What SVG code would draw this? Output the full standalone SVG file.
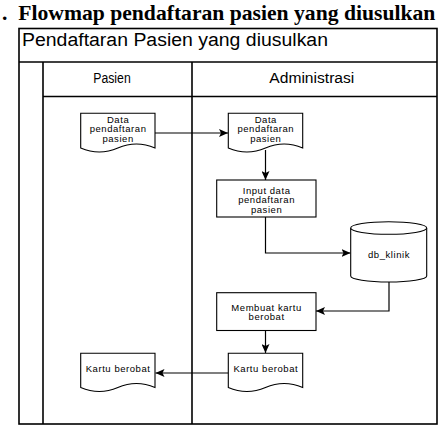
<svg xmlns="http://www.w3.org/2000/svg" width="444" height="428" viewBox="0 0 444 428">
<defs>
<marker id="arr" markerWidth="10" markerHeight="8" refX="9" refY="4" orient="auto" markerUnits="userSpaceOnUse">
<path d="M0,0 L9,4 L0,8 L2,4 Z" fill="#000"/>
</marker>
</defs>
<style>
.frame{fill:none;stroke:#000;stroke-width:1.6}
.shape{fill:#fff;stroke:#000;stroke-width:1.1}
.con{fill:none;stroke:#000;stroke-width:1.2;marker-end:url(#arr)}
.t{font-family:"Liberation Sans",Arial,sans-serif;font-size:9.5px;letter-spacing:0.55px;fill:#000;text-anchor:middle}
.hd{font-family:"Liberation Sans",Arial,sans-serif;fill:#000}
.title{font-family:"Liberation Serif","Times New Roman",serif;font-weight:bold;font-size:21.5px;fill:#000}
</style>
<rect width="444" height="428" fill="#fff"/>
<text class="title" x="2" y="20">.</text>
<text class="title" x="18.3" y="20" textLength="417" lengthAdjust="spacingAndGlyphs">Flowmap pendaftaran pasien yang diusulkan</text>

<g id="pool">
<rect class="frame" x="19" y="28.5" width="418" height="395.5"/>
<line class="frame" x1="19" y1="62" x2="437" y2="62"/>
<line class="frame" x1="43" y1="62" x2="43" y2="424"/>
<line class="frame" x1="43" y1="96.5" x2="437" y2="96.5"/>
<line class="frame" x1="192" y1="62" x2="192" y2="424"/>
<text class="hd" x="22" y="45.5" font-size="18" textLength="306" lengthAdjust="spacingAndGlyphs">Pendaftaran Pasien yang diusulkan</text>
<text class="hd" x="93.3" y="82.5" font-size="14" textLength="37.4" lengthAdjust="spacingAndGlyphs">Pasien</text>
<text class="hd" x="269.3" y="82.5" font-size="14" textLength="85" lengthAdjust="spacingAndGlyphs">Administrasi</text>
</g>

<g id="connectors">
<line class="con" x1="155" y1="133" x2="228" y2="133"/>
<line class="con" x1="265.5" y1="150" x2="265.5" y2="180"/>
<polyline class="con" points="265.5,217 265.5,253 350.5,253"/>
<polyline class="con" points="389,282 389,311 316,311"/>
<line class="con" x1="265.5" y1="330.5" x2="265.5" y2="353"/>
<line class="con" x1="228.5" y1="373" x2="155.5" y2="373"/>
</g>

<g id="doc-data-pasien">
<path class="shape" d="M80.7,113.3 H155 V148 Q136.4,140 117.85,148 Q99.3,156 80.7,148 Z"/>
<text class="t" x="118.1" y="122.5">Data</text>
<text class="t" x="118.1" y="132">pendaftaran</text>
<text class="t" x="118.1" y="141.5">pasien</text>
</g>

<g id="doc-data-admin">
<path class="shape" d="M228.3,113.3 H302.7 V148 Q284.1,140 265.5,148 Q246.9,156 228.3,148 Z"/>
<text class="t" x="265.8" y="122.5">Data</text>
<text class="t" x="265.8" y="132">pendaftaran</text>
<text class="t" x="265.8" y="141.5">pasien</text>
</g>

<g id="proc-input">
<rect class="shape" x="216.7" y="180" width="99.3" height="37"/>
<text class="t" x="266.6" y="193.5">Input data</text>
<text class="t" x="266.6" y="203">pendaftaran</text>
<text class="t" x="266.6" y="212.5">pasien</text>
</g>

<g id="db-klinik">
<path class="shape" d="M350.7,228 A38,6.3 0 0 1 426.7,228 V276 A38,6 0 0 1 350.7,276 Z"/>
<path class="shape" fill="none" d="M350.7,228 A38,6.3 0 0 0 426.7,228"/>
<text class="t" x="389" y="257.5">db_klinik</text>
</g>

<g id="proc-kartu">
<rect class="shape" x="216.7" y="292.7" width="99.3" height="37.8"/>
<text class="t" x="266.6" y="310.5">Membuat kartu</text>
<text class="t" x="266.6" y="320">berobat</text>
</g>

<g id="doc-kartu-admin">
<path class="shape" d="M228.3,353.3 H302.7 V387.5 Q284.1,379.5 265.5,387.5 Q246.9,395.5 228.3,387.5 Z"/>
<text class="t" x="265.8" y="371.5">Kartu berobat</text>
</g>

<g id="doc-kartu-pasien">
<path class="shape" d="M80.7,353.3 H155 V387.5 Q136.4,379.5 117.85,387.5 Q99.3,395.5 80.7,387.5 Z"/>
<text class="t" x="118.1" y="371.5">Kartu berobat</text>
</g>
</svg>
